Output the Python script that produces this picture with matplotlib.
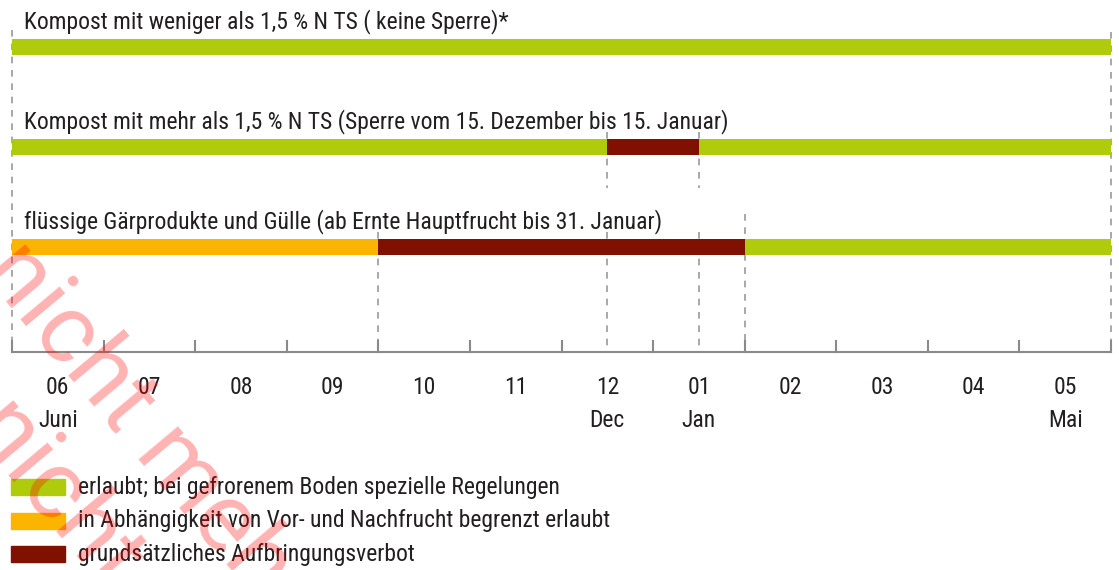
import matplotlib.pyplot as plt
from matplotlib.patches import Rectangle

plt.rcParams['font.family'] = ['Roboto Condensed', 'Archivo Narrow', 'DejaVu Sans']

# chart data (months counted from 1 June)
month_labels = ['06', '07', '08', '09', '10', '11', '12', '01', '02', '03', '04', '05']
month_names = {0: 'Juni', 6: 'Dec', 7: 'Jan', 11: 'Mai'}

row_titles = ['Kompost mit weniger als 1,5 % N TS ( keine Sperre)*',
              'Kompost mit mehr als 1,5 % N TS (Sperre vom 15. Dezember bis 15. Januar)',
              'flüssige Gärprodukte und Gülle (ab Ernte Hauptfrucht bis 31. Januar)']
row1_segments = [(0, 12, 'gruen')]
row2_segments = [(0, 6.5, 'gruen'), (6.5, 7.5, 'rot'), (7.5, 12, 'gruen')]
row3_segments = [(0, 4, 'orange'), (4, 8, 'rot'), (8, 12, 'gruen')]

legend_keys = ['gruen', 'orange', 'rot']
legend_texts = ['erlaubt; bei gefrorenem Boden spezielle Regelungen',
                'in Abhängigkeit von Vor- und Nachfrucht begrenzt erlaubt',
                'grundsätzliches Aufbringungsverbot']

colors = {'gruen': '#b0cb0b', 'orange': '#fbb400', 'rot': '#801000'}

W, H = 1119, 570
fig = plt.figure(figsize=(W / 100, H / 100), dpi=100)
x0, x1 = 12, 1111  # pixel span of the 12 months
ax = fig.add_axes([x0 / W, 0, (x1 - x0) / W, 1])
ax.set_xlim(0, 12)
ax.set_ylim(H, 0)  # y in pixel rows, top down
ax.axis('off')

txtcol = '#231f20'
fs = 17
dash_col = '#9a9a9a'

def vdash(x, ya, yb):
    ax.plot([x, x], [ya, yb], color=dash_col, lw=1.2, dashes=(4, 4), zorder=1,
            clip_on=False)

# dashed guide lines
vdash(0, 30, 352)
vdash(12, 32, 352)
for m in [6.5, 7.5]:
    vdash(m, 132, 188)
    vdash(m, 232, 352)
vdash(4, 232, 352)
vdash(8, 214, 352)

# bars
rows = [row1_segments, row2_segments, row3_segments]
bar_y = [47, 147, 247]
title_y = [28, 128, 228]
for title, segs, yc, ty in zip(row_titles, rows, bar_y, title_y):
    ax.text(0.13, ty, title, fontsize=fs, color=txtcol, va='baseline', ha='left')
    for a, b, key in segs:
        ax.barh(yc, b - a, left=a, height=16, color=colors[key], zorder=2)

# axis with ticks at month boundaries
ax.plot([0, 12], [352, 352], color='#8a8a8a', lw=1.5, zorder=3, clip_on=False)
for m in range(13):
    ax.plot([m, m], [341, 352], color='#8a8a8a', lw=1.5, zorder=3, clip_on=False)
for i, lab in enumerate(month_labels):
    ax.text(i + 0.5, 394, lab, fontsize=fs, color=txtcol, ha='center', va='baseline')
    if i in month_names:
        ax.text(i + 0.5, 427, month_names[i], fontsize=fs, color=txtcol,
                ha='center', va='baseline')

# legend
for k, (key, lab) in enumerate(zip(legend_keys, legend_texts)):
    yc = 487 + k * 33.5
    fig.add_artist(Rectangle((11 / W, 1 - (yc + 8) / H), 54 / W, 16 / H,
                             transform=fig.transFigure, color=colors[key]))
    fig.text(78 / W, 1 - (yc + 7) / H, lab, fontsize=fs, color=txtcol,
             va='baseline', ha='left')

# watermark
for sx, sy in [(-20, 272), (-32, 428)]:
    fig.text(sx / W, 1 - sy / H, 'nicht mehr gültig', fontsize=70, color='red',
             alpha=0.3, rotation=-50, rotation_mode='anchor', ha='left',
             va='baseline', family=['Roboto', 'DejaVu Sans'])

plt.savefig('out.png', dpi=100)
